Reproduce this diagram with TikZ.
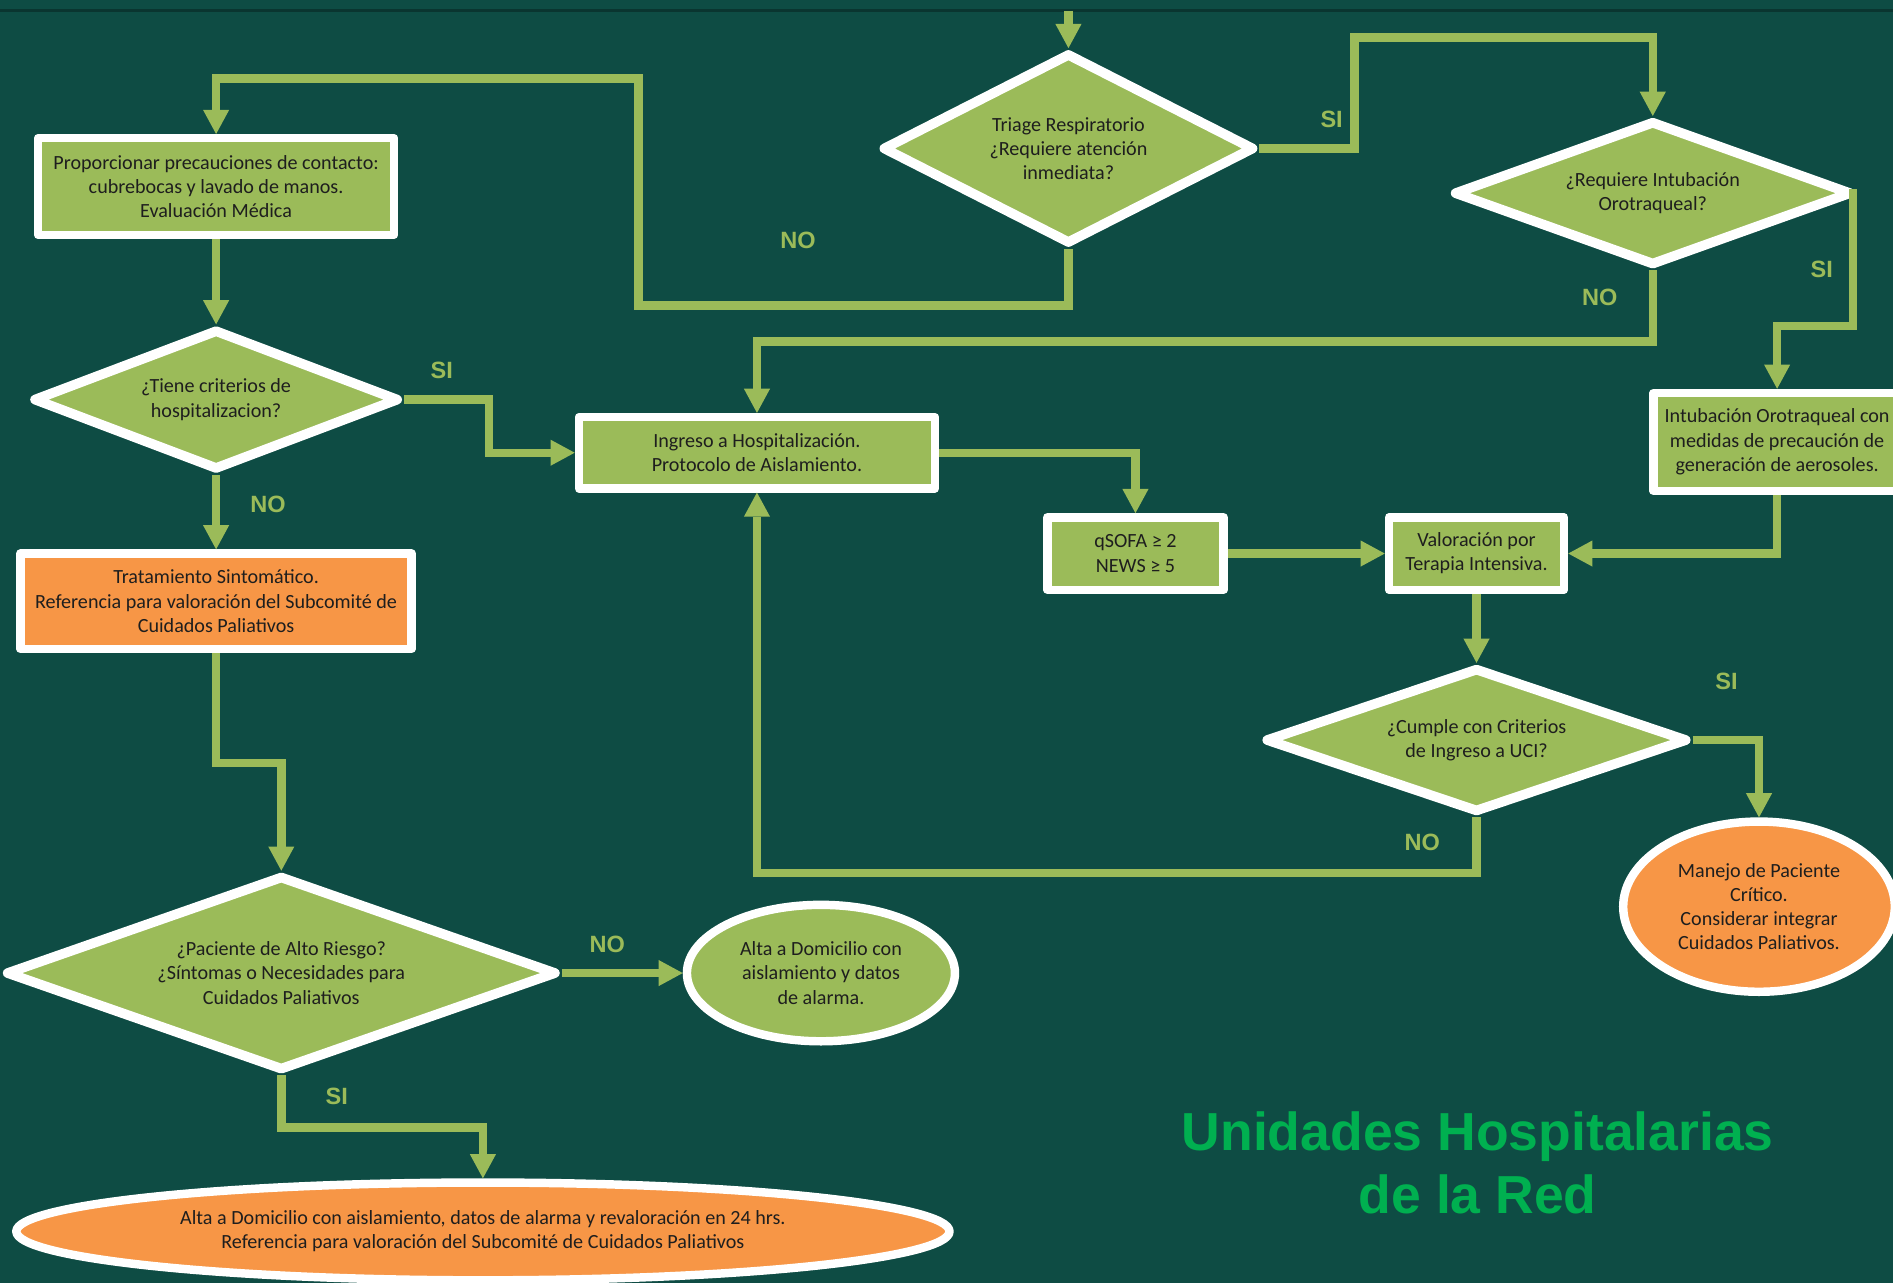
\documentclass[tikz,border=0pt]{standalone}
\usepackage{fontspec}
\setmainfont{Carlito}
\newfontfamily\headfont{Liberation Sans}
\usetikzlibrary{arrows.meta,shapes.geometric,shadows}
\definecolor{bg}{HTML}{0E4C44}
\definecolor{topline}{HTML}{0A3530}
\definecolor{leaf}{HTML}{9BBB59}
\definecolor{warm}{HTML}{F79646}
\definecolor{heading}{HTML}{00B050}
\definecolor{ink}{HTML}{1E1E1E}
\begin{document}
\begin{tikzpicture}[x=0.6pt,y=-0.6pt,
  base/.style={draw=white, line width=4.2pt, line join=round, text=ink,
    font=\fontsize{10}{12}\selectfont, align=center, inner sep=0pt,
    drop shadow={shadow xshift=1.5pt, shadow yshift=-1.5pt, opacity=0.35}},
  gbox/.style={base, rectangle, fill=leaf},
  obox/.style={base, rectangle, fill=warm},
  decide/.style={base, diamond, fill=leaf, line width=4.8pt},
  gend/.style={base, ellipse, fill=leaf},
  oend/.style={base, ellipse, fill=warm},
  conn/.style={draw=leaf, line width=4.2pt, line join=miter,
    -{Triangle[width=13pt,length=12pt,line width=0pt]}},
  tag/.style={text=leaf, font=\headfont\bfseries\fontsize{11.7}{14}\selectfont},
  heading/.style={text=heading, align=center, font=\headfont\bfseries\fontsize{26.6}{31.2}\selectfont}
]
% canvas
\clip (0,0) rectangle (1568,1063);
\fill[bg] (0,0) rectangle (1568,1063);
\draw[topline, line width=1.5pt] (0,9) -- (1568,9);

% process boxes
\node[gbox, minimum width=177pt, minimum height=48pt] (prop) at (179,154.5)
  {Proporcionar precauciones de contacto:\\cubrebocas y lavado de manos.\\Evaluación Médica};
\node[gbox, minimum width=177pt, minimum height=35.4pt] (ingreso) at (627,375)
  {Ingreso a Hospitalización.\\Protocolo de Aislamiento.};
\node[obox, minimum width=194.4pt, minimum height=47.4pt] (trat) at (179,498)
  {Tratamiento Sintomático.\\Referencia para valoración del Subcomité de\\Cuidados Paliativos};
\node[gbox, minimum width=87.6pt, minimum height=36pt] (qsofa) at (940.5,458.5)
  {qSOFA ≥ 2\\NEWS ≥ 5};
\node[gbox, minimum width=87pt, minimum height=36pt] (valor) at (1223,458.5)
  {Valoración por\\Terapia Intensiva.};
\node[gbox, minimum width=123pt, minimum height=48.6pt] (intubox) at (1472,366)
  {Intubación Orotraqueal con\\medidas de precaución de\\generación de aerosoles.};

% decisions
\node[decide, aspect=1.96, minimum width=185pt, minimum height=95pt] (triage) at (885,123)
  {Triage Respiratorio\\¿Requiere atención\\inmediata?};
\node[decide, aspect=2.8, minimum width=198pt, minimum height=72pt] (intub) at (1369,160)
  {¿Requiere Intubación\\Orotraqueal?};
\node[decide, aspect=2.63, minimum width=182pt, minimum height=70pt] (tiene) at (179,331)
  {¿Tiene criterios de\\hospitalizacion?};
\node[decide, aspect=2.97, minimum width=210pt, minimum height=72pt] (cumple) at (1223,613)
  {¿Cumple con Criterios\\de Ingreso a UCI?};
\node[decide, aspect=2.88, minimum width=274pt, minimum height=97pt] (paciente) at (233,806)
  {¿Paciente de Alto Riesgo?\\¿Síntomas o Necesidades para\\Cuidados Paliativos};

% end points
\node[oend, minimum width=135pt, minimum height=84.6pt] (manejo) at (1457,751)
  {Manejo de Paciente\\Crítico.\\Considerar integrar\\Cuidados Paliativos.};
\node[gend, minimum width=133.2pt, minimum height=67.8pt] (altaG) at (680,806)
  {Alta a Domicilio con\\aislamiento y datos\\de alarma.};
\node[oend, minimum width=463.8pt, minimum height=48.6pt] (altaO) at (400,1020)
  {Alta a Domicilio con aislamiento, datos de alarma y revaloración en 24 hrs.\\Referencia para valoración del Subcomité de Cuidados Paliativos};

% connectors
\coordinate (entry) at (885,9);
\draw[conn] (entry) -- (triage.north);
\draw[conn] (triage.east) -| (1122,31) -| (intub.north);
\draw[conn] (triage.south) |- (529,253) -- (529,65) -| (prop.north);
\draw[conn] (prop.south) -- (tiene.north);
\draw[conn] (tiene.east) -| (405,375) -- (ingreso.west);
\draw[conn] (tiene.south) -- (trat.north);
\draw[conn] (intub.south) |- (627,283) -- (ingreso.north);
\draw[conn] (intub.east) -| (1535,270) -| (intubox.north);
\draw[conn] (ingreso.east) -| (qsofa.north);
\draw[conn] (qsofa.east) -- (valor.west);
\draw[conn] (intubox.south) |- (valor.east);
\draw[conn] (valor.south) -- (cumple.north);
\draw[conn] (cumple.east) -| (manejo.north);
\draw[conn] (cumple.south) |- (627,723) -- (ingreso.south);
\draw[conn] (trat.south) |- (233,632) -- (paciente.north);
\draw[conn] (paciente.east) -- (altaG.west);
\draw[conn] (paciente.south) |- (400,934) -- (altaO.north);

% branch labels
\node[tag] (siTriage) at (1103,99) {SI};
\node[tag] (noTriage) at (661,199) {NO};
\node[tag] (siTiene) at (366,307) {SI};
\node[tag] (noTiene) at (222,418) {NO};
\node[tag] (noIntub) at (1325,246) {NO};
\node[tag] (siIntub) at (1509,223) {SI};
\node[tag] (siCumple) at (1430,564) {SI};
\node[tag] (noCumple) at (1178,698) {NO};
\node[tag] (noPaciente) at (503,782) {NO};
\node[tag] (siPaciente) at (279,908) {SI};

% heading
\node[heading] (title) at (1224,963) {Unidades Hospitalarias\\de la Red};
\end{tikzpicture}
\end{document}
